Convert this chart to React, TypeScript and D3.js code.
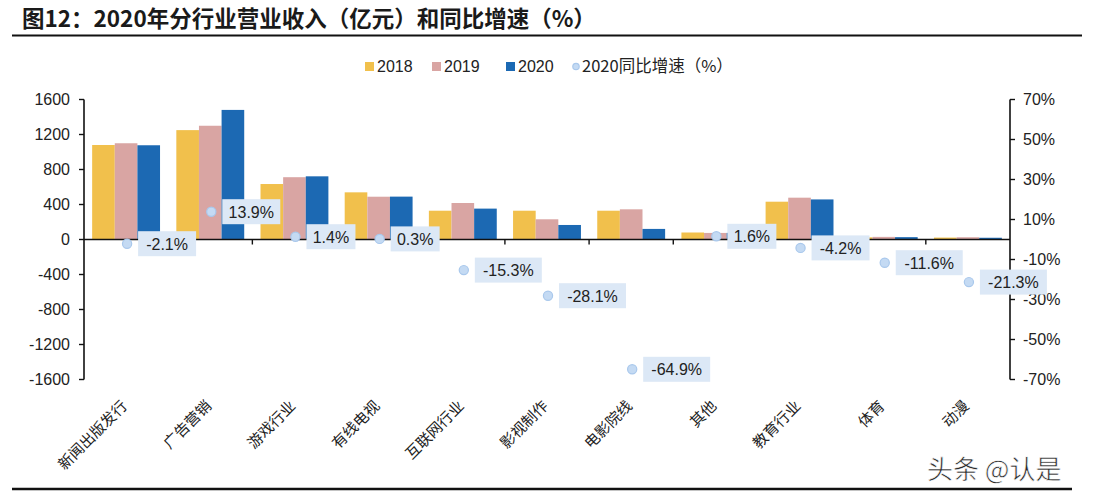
import React from 'react';
import * as d3 from 'd3';

const categories = ['新闻出版发行', '广告营销', '游戏行业', '有线电视', '互联网行业', '影视制作', '电影院线', '其他', '教育行业', '体育', '动漫'];
const rev2018 = [1080, 1250, 634, 539, 329, 329, 329, 80, 432, 25, 22];
const rev2019 = [1100, 1300, 712, 489, 417, 231, 345, 75, 478, 30, 26];
const rev2020 = [1077, 1481, 722, 490, 353, 166, 121, 76, 458, 27, 20];
const growth2020 = [-2.1, 13.9, 1.4, 0.3, -15.3, -28.1, -64.9, 1.6, -4.2, -11.6, -21.3];
const leftTicks = [1600, 1200, 800, 400, 0, -400, -800, -1200, -1600];
const rightTicks = [70, 50, 30, 10, -10, -30, -50, -70];
const seriesNames = ['2018', '2019', '2020'];
const lineName = '2020同比增速（%）';
const title = '图12：2020年分行业营业收入（亿元）和同比增速（%）';
const watermark = '头条 @认是';

const colors = ['#F1C04C', '#D9A5A3', '#1C69B3'];
const dotStroke = '#A9C8EC';
const dotFill = '#C4DAF3';
const boxFill = '#DCE8F6';

const W = 1094;
const H = 498;
const left = 84;
const right = 1010;
const top = 99.5;
const bottom = 379.5;

export default function App() {
  const x = d3.scaleBand<string>().domain(categories).range([left, right]).paddingInner(0).paddingOuter(0);
  const inner = d3.scaleBand<string>().domain(seriesNames).range([0, x.bandwidth()]).paddingOuter(0.36).paddingInner(0);
  const yL = d3.scaleLinear().domain([-1600, 1600]).range([bottom, top]);
  const yR = d3.scaleLinear().domain([-70, 70]).range([bottom, top]);
  const series = [rev2018, rev2019, rev2020];
  const font = 'Liberation Sans, Arial, sans-serif';
  const cjk = '"Noto Sans CJK SC", sans-serif';

  const legendItems = [
    { x: 365, label: '2018', c: colors[0] },
    { x: 432, label: '2019', c: colors[1] },
    { x: 506, label: '2020', c: colors[2] },
  ];

  return (
    <svg width={W} height={H} style={{ position: 'absolute', left: 0, top: 0, background: '#fff' }}>
      <rect x={0} y={0} width={W} height={H} fill="#fff" />
      {/* title */}
      <text x={22} y={27} fontFamily={cjk} fontWeight={700} fontSize={22.5} fill="#1a1a1a">{title}</text>
      <line x1={12} x2={1082} y1={35.5} y2={35.5} stroke="#111" strokeWidth={2.2} />
      <line x1={12} x2={1072} y1={489} y2={489} stroke="#111" strokeWidth={2.6} />

      {/* legend */}
      {legendItems.map((it) => (
        <g key={it.label}>
          <rect x={it.x} y={62} width={9} height={9} fill={it.c} />
          <text x={it.x + 12} y={72} fontFamily={font} fontSize={16} fill="#222">{it.label}</text>
        </g>
      ))}
      <circle cx={576} cy={66.5} r={3.2} fill={dotFill} stroke={dotStroke} strokeWidth={1.2} />
      <text x={582} y={72} fontFamily={cjk} fontSize={16.5} fill="#222">{lineName}</text>

      {/* bars */}
      {categories.map((c, i) => (
        <g key={c}>
          {series.map((s, k) => {
            const v = s[i];
            const y0 = yL(0);
            const y1 = yL(v);
            return (
              <rect
                key={k}
                x={(x(c) as number) + (inner(seriesNames[k]) as number)}
                y={Math.min(y0, y1)}
                width={inner.bandwidth()}
                height={Math.abs(y1 - y0)}
                fill={colors[k]}
              />
            );
          })}
        </g>
      ))}

      {/* x axis */}
      <line x1={left} x2={right} y1={yL(0)} y2={yL(0)} stroke="#111" strokeWidth={1.6} />
      {categories.slice(1).map((c) => (
        <line key={c} x1={x(c) as number} x2={x(c) as number} y1={yL(0)} y2={yL(0) + 5} stroke="#111" strokeWidth={1.4} />
      ))}

      {/* left axis */}
      <line x1={left} x2={left} y1={top} y2={bottom} stroke="#111" strokeWidth={1.6} />
      {leftTicks.map((t) => (
        <g key={t}>
          <line x1={left - 5} x2={left} y1={yL(t)} y2={yL(t)} stroke="#111" strokeWidth={1.4} />
          <text x={70} y={yL(t) + 5.5} textAnchor="end" fontFamily={font} fontSize={16} fill="#222">{t}</text>
        </g>
      ))}

      {/* right axis */}
      <line x1={right} x2={right} y1={top} y2={bottom} stroke="#111" strokeWidth={1.6} />
      {rightTicks.map((t) => (
        <g key={t}>
          <line x1={right} x2={right + 5} y1={yR(t)} y2={yR(t)} stroke="#111" strokeWidth={1.4} />
          <text x={1023} y={yR(t) + 5.5} textAnchor="start" fontFamily={font} fontSize={16} fill="#222">{t}%</text>
        </g>
      ))}

      {/* growth points and labels */}
      {categories.map((c, i) => {
        const cx = (x(c) as number) + x.bandwidth() / 2 + 1;
        const cy = yR(growth2020[i]);
        const label = `${growth2020[i].toFixed(1)}%`;
        const bw = label.length * 9 + 13;
        return (
          <g key={c}>
            <circle cx={cx} cy={cy} r={4.6} fill={dotFill} stroke={dotStroke} strokeWidth={1.2} />
            <rect x={cx + 11} y={cy - 12.5} width={bw} height={25} fill={boxFill} />
            <text x={cx + 11 + bw / 2} y={cy + 6} textAnchor="middle" fontFamily={font} fontSize={16} fill="#222">{label}</text>
          </g>
        );
      })}

      {/* x labels */}
      {categories.map((c) => {
        const cx = (x(c) as number) + x.bandwidth() / 2;
        return (
          <text
            key={c}
            transform={`translate(${cx + 2},${407}) rotate(-45)`}
            textAnchor="end"
            fontFamily={cjk}
            fontSize={15}
            fill="#222"
          >
            {c}
          </text>
        );
      })}

      {/* watermark */}
      <text x={927} y={479} fontFamily={cjk} fontSize={26} fill="#2a2a2a" stroke="#fff" strokeWidth={0.6}>{watermark}</text>
    </svg>
  );
}
